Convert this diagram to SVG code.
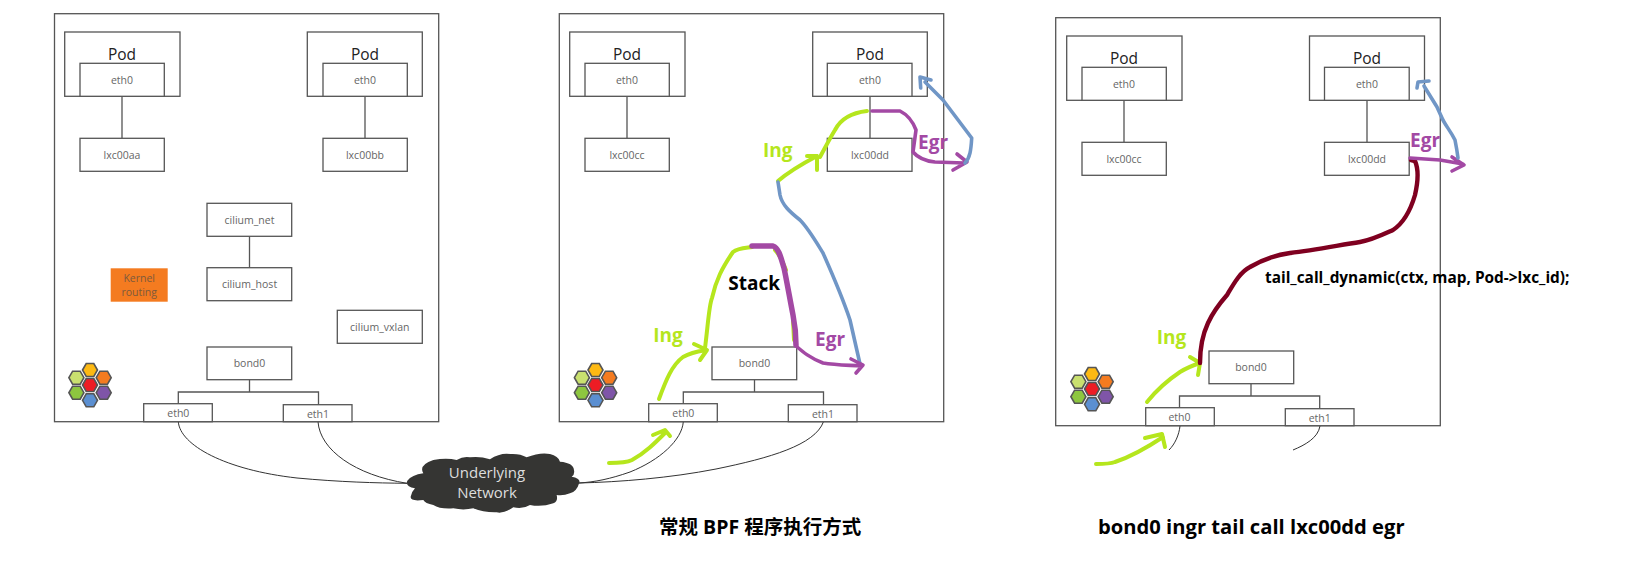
<svg xmlns="http://www.w3.org/2000/svg" width="1650" height="565" viewBox="0 0 1650 565">
<style>
.b{fill:#fff;stroke:#555;stroke-width:1.3}
.n{fill:none}
.t{font-family:"Open Sans","Liberation Sans",sans-serif;font-size:10.5px;fill:#666;text-anchor:middle}
.pod{font-family:"Open Sans","Liberation Sans",sans-serif;font-size:15.5px;fill:#222;text-anchor:middle}
.l{fill:none;stroke:#555;stroke-width:1.3}
.w{fill:none;stroke:#333;stroke-width:1}
.h{fill:none;stroke-linecap:round;stroke-linejoin:round}
.g{stroke:#b5e61d;stroke-width:4}
.p{stroke:#a349a4;stroke-width:3.6}
.u{stroke:#7096c6;stroke-width:3.6}
.r{stroke:#7f0020;stroke-width:4.4}
.lab{font-family:"Open Sans","Liberation Sans",sans-serif;font-size:19px;font-weight:700}
.cap{font-family:"Open Sans","Noto Sans CJK SC",sans-serif;font-weight:700;fill:#000}
.hx{stroke:#555;stroke-width:1.6}
</style>
<defs>
<polygon id="hex" points="-7.5,0 -3.8,-6.5 3.8,-6.5 7.500,0 3.800,6.500 -3.800,6.500"/>
<g id="logo">
<use href="#hex" x="90" y="370" fill="#fdb913" class="hx"/>
<use href="#hex" x="76.400" y="377.700" fill="#c9e06f" class="hx"/>
<use href="#hex" x="103.700" y="377.700" fill="#f47b20" class="hx"/>
<use href="#hex" x="90" y="385" fill="#ed1c24" class="hx"/>
<use href="#hex" x="76.400" y="392.700" fill="#8dc63f" class="hx"/>
<use href="#hex" x="103.700" y="392.700" fill="#7f55a8" class="hx"/>
<use href="#hex" x="90" y="400.300" fill="#5b8fd1" class="hx"/>
</g>
</defs>
<rect width="1650" height="565" fill="#fff"/>

<g id="panel-1">
<rect class="b" x="54.500" y="13.700" width="384.200" height="408"/>
<use href="#logo"/>
</g>
<g id="panel-2">
<rect class="b" x="559.300" y="13.700" width="384.400" height="408"/>
<use href="#logo" x="505.500"/>
</g>
<g id="panel-3">
<rect class="b" x="1055.700" y="17.700" width="384.600" height="408"/>
<use href="#logo" x="1002" y="4"/>
</g>

<g id="connectors">
<path class="l" d="M122 96.300V138.300M365 96.300V138.300M249.500 236.300V267.700M249.500 380V392H178.300V403.700M249.500 392H318.500V404.700"/>
<path class="l" d="M627 96.300V138.300M870 96.300V138.300M754.500 380V392H683.300V403.700M754.500 392H823.500V404.700"/>
<path class="l" d="M1124 100.300V142.300M1367 100.300V142.300M1251 384V396H1179.500V407.700M1251 396H1319.700V408.700"/>
<path class="w" d="M178.300 421.700C180 445 225 470 297 478C340 482 375 483 407 483.300"/>
<path class="w" d="M318 421.700C320 450 355 475 407 483.300"/>
<path class="w" d="M683.300 421.700C682 440 660 460 630 472C610 479 595 482 579 483"/>
<path class="w" d="M823.500 421.700C815 445 770 458 716 469C670 478 620 482 579 483"/>
<path class="w" d="M1180 426C1179 435 1175 444 1169 450"/>
<path class="w" d="M1320 426C1318 438 1305 445 1293 450"/>
</g>

<g id="node-pod-a"><rect class="b" x="64.700" y="32" width="115.300" height="64.300"/><text class="pod" x="122" y="60">Pod</text></g>
<g id="node-eth0-a"><rect class="b" x="80" y="63.300" width="84.300" height="33"/><text class="t" x="122" y="84">eth0</text></g>
<g id="node-lxc00aa"><rect class="b" x="80" y="138.300" width="84.300" height="33"/><text class="t" x="122" y="158.500">lxc00aa</text></g>
<g id="node-pod-b"><rect class="b" x="307.300" y="32" width="115" height="64.300"/><text class="pod" x="365" y="60">Pod</text></g>
<g id="node-eth0-b"><rect class="b" x="323" y="63.300" width="84.300" height="33"/><text class="t" x="365" y="84">eth0</text></g>
<g id="node-lxc00bb"><rect class="b" x="323" y="138.300" width="84.300" height="33"/><text class="t" x="365" y="158.500">lxc00bb</text></g>
<g id="node-cilium-net"><rect class="b" x="207" y="203.300" width="84.700" height="33"/><text class="t" x="249.500" y="223.500">cilium_net</text></g>
<g id="node-cilium-host"><rect class="b" x="207" y="267.700" width="84.700" height="33"/><text class="t" x="249.500" y="288">cilium_host</text></g>
<g id="node-kernel"><rect x="110.700" y="268.300" width="57" height="33.400" fill="#f47b20"/><text class="t" x="139.200" y="281.500" style="fill:#7c5a3c">Kernel</text><text class="t" x="139.200" y="295.500" style="fill:#7c5a3c">routing</text></g>
<g id="node-cilium-vxlan"><rect class="b" x="337.300" y="310.300" width="85" height="33"/><text class="t" x="379.800" y="330.500">cilium_vxlan</text></g>
<g id="node-bond0-a"><rect class="b" x="207" y="347" width="84.700" height="32.700"/><text class="t" x="249.500" y="367">bond0</text></g>
<g id="node-eth0-c"><rect class="b" x="143.700" y="403.700" width="68.600" height="18"/><text class="t" x="178.300" y="417">eth0</text></g>
<g id="node-eth1-a"><rect class="b" x="283.300" y="404.700" width="68.700" height="17"/><text class="t" x="318" y="417.500">eth1</text></g>

<g id="node-pod-c"><rect class="b" x="569.700" y="32" width="115.300" height="64.300"/><text class="pod" x="627" y="60">Pod</text></g>
<g id="node-eth0-d"><rect class="b" x="585" y="63.300" width="84.300" height="33"/><text class="t" x="627" y="84">eth0</text></g>
<g id="node-lxc00cc"><rect class="b" x="585" y="138.300" width="84.300" height="33"/><text class="t" x="627" y="158.500">lxc00cc</text></g>
<g id="node-pod-d"><rect class="b" x="812.700" y="32" width="114.600" height="64.300"/><text class="pod" x="870" y="60">Pod</text></g>
<g id="node-eth0-e"><rect class="b" x="827.300" y="63.300" width="84.700" height="33"/><text class="t" x="870" y="84">eth0</text></g>
<g id="node-lxc00dd"><rect class="b" x="827.300" y="138.300" width="84.700" height="33"/><text class="t" x="870" y="158.500">lxc00dd</text></g>
<g id="node-bond0-b"><rect class="b" x="712" y="347" width="84.700" height="32.700"/><text class="t" x="754.500" y="367">bond0</text></g>
<g id="node-eth0-f"><rect class="b" x="648.700" y="403.700" width="68.600" height="18"/><text class="t" x="683.300" y="417">eth0</text></g>
<g id="node-eth1-b"><rect class="b" x="788.300" y="404.700" width="68.700" height="17"/><text class="t" x="823" y="417.500">eth1</text></g>

<g id="node-pod-e"><rect class="b" x="1066.700" y="36" width="115.300" height="64.300"/><text class="pod" x="1124" y="64">Pod</text></g>
<g id="node-eth0-g"><rect class="b" x="1082" y="67.300" width="84.300" height="33"/><text class="t" x="1124" y="88">eth0</text></g>
<g id="node-lxc00cc-b"><rect class="b" x="1082" y="142.300" width="84.300" height="33"/><text class="t" x="1124" y="162.500">lxc00cc</text></g>
<g id="node-pod-f"><rect class="b" x="1309.500" y="36" width="115" height="64.300"/><text class="pod" x="1367" y="64">Pod</text></g>
<g id="node-eth0-h"><rect class="b" x="1324.500" y="67.300" width="84.700" height="33"/><text class="t" x="1367" y="88">eth0</text></g>
<g id="node-lxc00dd-b"><rect class="b" x="1324.500" y="142.300" width="84.700" height="33"/><text class="t" x="1367" y="162.500">lxc00dd</text></g>
<g id="node-bond0-c"><rect class="b" x="1209" y="351" width="84.700" height="32.700"/><text class="t" x="1251" y="371">bond0</text></g>
<g id="node-eth0-i"><rect class="b" x="1145.700" y="407.700" width="68.600" height="18"/><text class="t" x="1179.500" y="421">eth0</text></g>
<g id="node-eth1-c"><rect class="b" x="1285.300" y="408.700" width="68.700" height="17"/><text class="t" x="1319.700" y="421.500">eth1</text></g>

<g id="node-cloud">
<path transform="translate(370 420) scale(.3333)" fill="#353533" d="M112 182Q125 165 160 160Q145 135 190 120Q230 112 260 120Q280 108 300 112Q330 108 360 118Q390 98 420 102Q450 100 470 112Q510 96 540 102Q565 108 570 125Q610 128 612 150Q615 165 605 170Q632 175 628 188Q620 215 600 220Q580 228 560 225Q565 245 550 250Q515 262 480 255Q460 268 430 262Q400 282 380 277Q340 278 310 265Q280 272 250 265Q210 268 190 255Q165 250 160 240Q120 245 122 230Q125 215 135 205Q105 200 112 182Z"/>
<text x="487" y="478" style="font-family:'Open Sans','Liberation Sans',sans-serif;font-size:15px;fill:#ddd;text-anchor:middle">Underlying</text>
<text x="487" y="498" style="font-family:'Open Sans','Liberation Sans',sans-serif;font-size:15px;fill:#ddd;text-anchor:middle">Network</text>
</g>

<g id="strokes-middle">
<path class="h g" d="M659 399C666 380 672 365 683 357C692 352 700 351 706 350M694 344L707 350L700 360"/>
<path class="h g" d="M705 348C708 325 709 305 712 298C716 280 722 268 733 252C738 248 745 248 752 247M775 250C780 255 784 265 786 270M793 320L794 340"/>
<path class="h g" d="M609 463C618 463 626 463 632 460C645 453 655 443 666 432M653 435L665 430L670 436"/>
<path class="h g" d="M778 181C785 175 800 165 817 156M807 156L817 156L817 170"/>
<path class="h g" d="M820 157C825 148 830 138 835 130C840 120 850 113 867 111"/>
<path class="h p" style="stroke-width:5.500" d="M752 246L773 246C779 248 781 258 784 268C787 282 790 300 793 315C795 325 796 335 796 345"/>
<path class="h u" d="M860 364L850 320C845 305 835 280 823 253C815 240 808 228 800 220C790 212 782 205 780 195L778 182"/>
<path class="h p" d="M796 346C803 352 810 358 823 363C835 365 845 365 862 366M851 359L863 365L856 373"/>
<path class="h p" d="M872 111L900 111C908 115 913 122 916 130L913 152C918 158 925 161 935 162L964 163M957 154L967 162L953 170"/>
<path class="h u" d="M965 163C970 158 971 150 971.700 138L943 100L925 82M920.700 88L920 77L931 80"/>
</g>
<g id="strokes-right">
<path class="h g" d="M1147 402C1155 392 1165 382 1180 372C1188 367 1194 365 1200 363M1190 357L1200 363L1198 375"/>
<path class="h g" d="M1096 464C1104 464 1110 464 1115 462C1130 457 1148 447 1163 437M1145 438L1162 434L1165 447"/>
<path class="h r" d="M1200 363C1200 350 1201 338 1208 323C1213 312 1220 303 1227 295C1233 285 1240 272 1250 267C1262 260 1275 255 1290 253C1315 250 1340 245 1360 242C1372 240 1382 235 1393 230C1402 224 1410 212 1415 195C1418 182 1419 170 1415 161L1411 160"/>
<path class="h p" d="M1410 158L1440 160L1463 164M1452 157L1464 165L1452 171"/>
<path class="h u" d="M1458 158C1457 150 1456 145 1455 140C1450 130 1445 125 1442 118L1437 107L1424 86M1417 88L1418 82L1429 81"/>
</g>

<g id="labels">
<text class="lab" x="653.300" y="341.700" fill="#b5e61d">Ing</text>
<text class="lab" x="728.300" y="290" fill="#000">Stack</text>
<text class="lab" x="815" y="345.700" fill="#a349a4">Egr</text>
<text class="lab" x="763" y="157.300" fill="#b5e61d">Ing</text>
<text class="lab" x="918" y="149.300" fill="#a349a4">Egr</text>
<text class="lab" x="1156.700" y="344.300" fill="#b5e61d">Ing</text>
<text class="lab" x="1410" y="147.300" fill="#a349a4">Egr</text>
<text x="1265" y="282.700" style="font-family:'Open Sans','Liberation Sans',sans-serif;font-size:15.400px;font-weight:700;fill:#000">tail_call_dynamic(ctx, map, Pod-&gt;lxc_id);</text>
<text class="cap" x="659" y="534" font-size="19.500">常规 BPF 程序执行方式</text>
<text class="cap" x="1098" y="534" font-size="20.200">bond0 ingr tail call lxc00dd egr</text>
</g>
</svg>
